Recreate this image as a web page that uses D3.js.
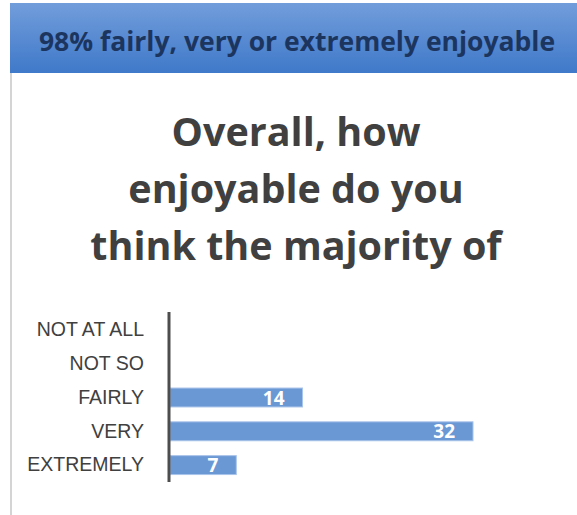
<!DOCTYPE html>
<html>
<head>
<meta charset="utf-8">
<script src="https://cdn.jsdelivr.net/npm/d3@7"></script>
<style>
  body { margin: 0; background: #fff; }
  svg { display: block; }
</style>
</head>
<body>
<svg id="chart" width="577" height="515"></svg>
<script>
// Data
const categories = ["NOT AT ALL", "NOT SO", "FAIRLY", "VERY", "EXTREMELY"];
const values = [0, 0, 14, 32, 7];
const headline = "98% fairly, very or extremely enjoyable";
const titleLines = ["Overall, how", "enjoyable do you", "think the majority of"];

const svg = d3.select("#chart");
const font = "'Open Sans', sans-serif";

// Header band with gradient
const defs = svg.append("defs");
const grad = defs.append("linearGradient")
  .attr("id", "hdr")
  .attr("x1", 0).attr("y1", 0).attr("x2", 0).attr("y2", 1);
grad.append("stop").attr("offset", "0%").attr("stop-color", "#729ddb");
grad.append("stop").attr("offset", "100%").attr("stop-color", "#3f79c9");

svg.append("rect")
  .attr("x", 10).attr("y", 3)
  .attr("width", 567).attr("height", 70)
  .attr("fill", "url(#hdr)");

svg.append("text")
  .attr("x", 297).attr("y", 51)
  .attr("text-anchor", "middle")
  .attr("fill", "#1c355e")
  .style("font-family", font)
  .style("font-weight", "bold")
  .style("font-size", "26.5px")
  .text(headline);

// Left panel border
svg.append("line")
  .attr("x1", 11).attr("x2", 11)
  .attr("y1", 73).attr("y2", 515)
  .attr("stroke", "#d4d4d4")
  .attr("stroke-width", 2);

// Title
svg.append("g").selectAll("text")
  .data(titleLines)
  .join("text")
  .attr("x", 296)
  .attr("y", (d, i) => 146 + i * 57)
  .attr("text-anchor", "middle")
  .attr("fill", "#404040")
  .style("font-family", font)
  .style("font-weight", "bold")
  .style("font-size", "39.5px")
  .text(d => d);

// Scales
const x = d3.scaleLinear().domain([0, 32]).range([170, 473]);
const y = d3.scaleBand().domain(categories).range([313, 482]).paddingInner(0.44).paddingOuter(0.22);

// Category labels
svg.append("g")
  .attr("transform", "translate(168,0)")
  .call(d3.axisLeft(y).tickSize(0).tickPadding(24))
  .call(g => g.select(".domain").remove())
  .selectAll("text")
  .attr("fill", "#404040")
  .style("font-family", "'Liberation Sans Narrow', 'Liberation Sans', sans-serif")
  .style("font-size", "19.5px");

// Bars
svg.append("g").selectAll("rect")
  .data(categories.map((c, i) => ({ c, v: values[i] })).filter(d => d.v > 0))
  .join("rect")
  .attr("x", x(0))
  .attr("y", d => y(d.c))
  .attr("width", d => x(d.v) - x(0))
  .attr("height", y.bandwidth())
  .attr("fill", "#6a98d5")
  .attr("stroke", "#a9c4ea")
  .attr("stroke-width", 1);

// Value labels
svg.append("g").selectAll("text")
  .data(categories.map((c, i) => ({ c, v: values[i] })).filter(d => d.v > 0))
  .join("text")
  .attr("x", d => x(d.v) - 18)
  .attr("y", d => y(d.c) + y.bandwidth() / 2 + 7)
  .attr("text-anchor", "end")
  .attr("fill", "#fff")
  .style("font-family", font)
  .style("font-weight", "bold")
  .style("font-size", "19px")
  .text(d => d.v);

// Axis line
svg.append("line")
  .attr("x1", x(0) - 1).attr("x2", x(0) - 1)
  .attr("y1", 312).attr("y2", 482)
  .attr("stroke", "#4d4d4d")
  .attr("stroke-width", 3);
</script>
</body>
</html>
